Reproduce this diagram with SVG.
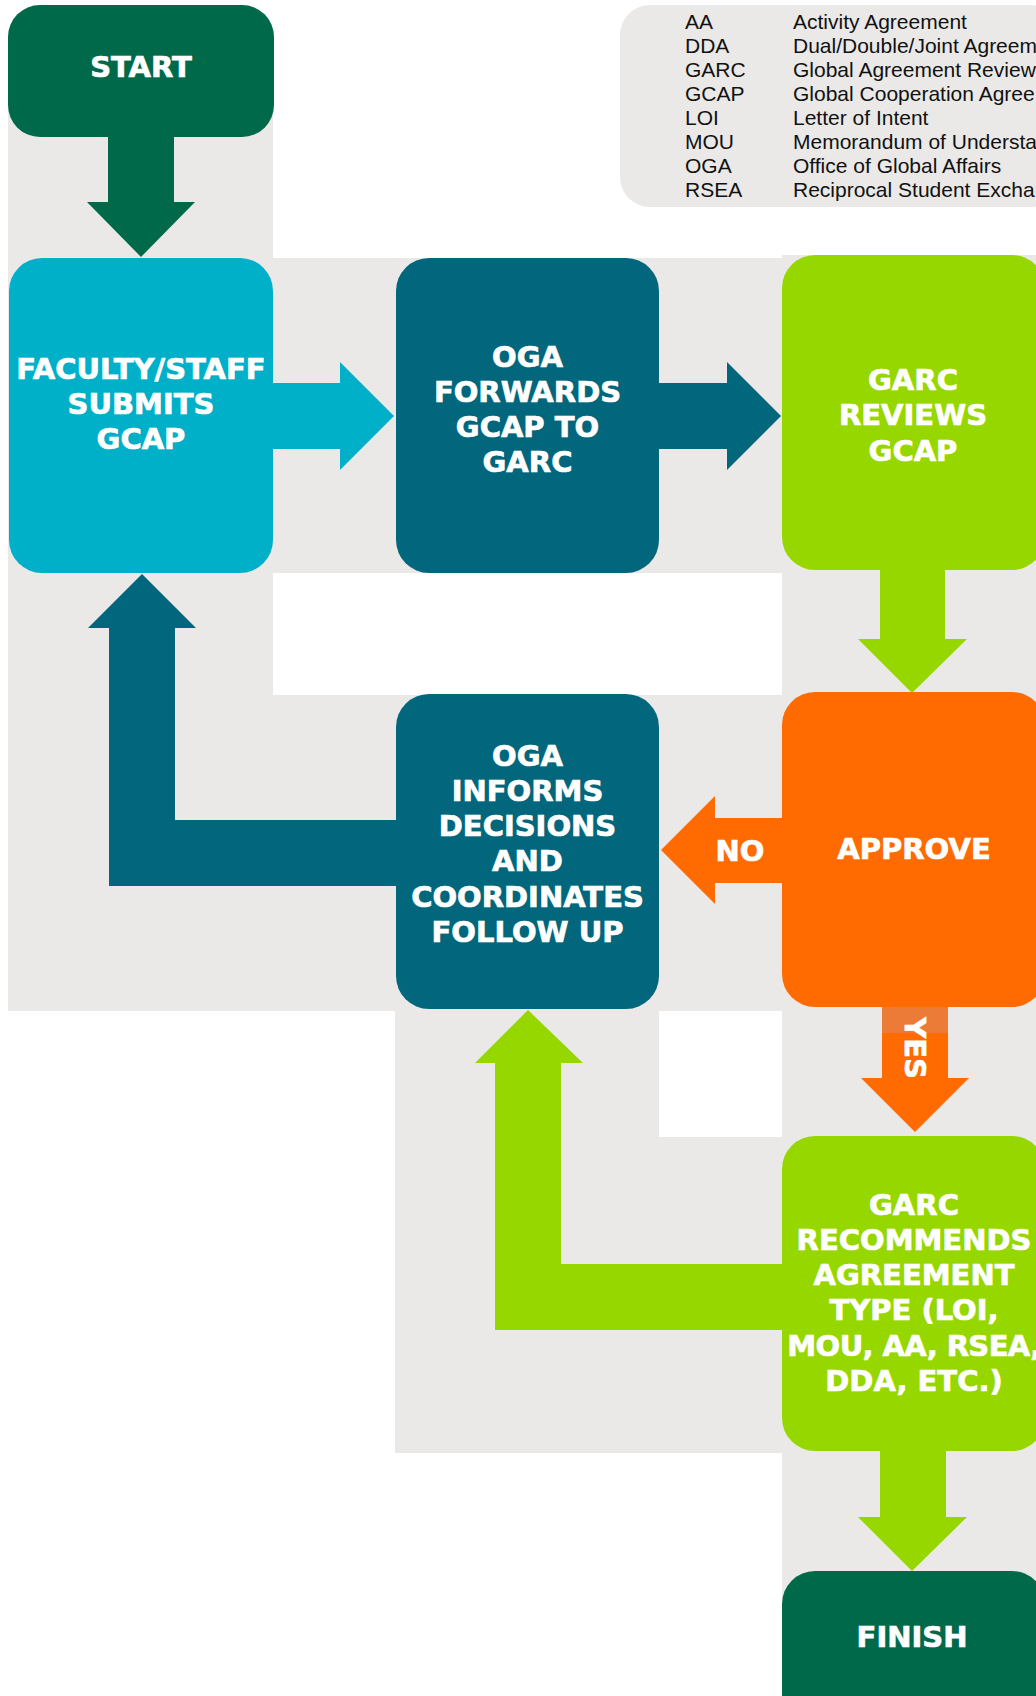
<svg xmlns="http://www.w3.org/2000/svg" width="1036" height="1696" viewBox="0 0 1036 1696">
<style>
.bg{fill:#EAE9E7}
.dg{fill:#00694A}
.cy{fill:#00AFC8}
.tl{fill:#02677C}
.lm{fill:#97D700}
.or{fill:#FF6B00}
.lbl{font-family:"DejaVu Sans",Verdana,sans-serif;font-weight:bold;font-size:29px;fill:#FFFFFF;stroke:#FFFFFF;stroke-width:0.7px;text-anchor:middle}
.leg{font-family:"Liberation Sans",Arial,sans-serif;font-size:21px;fill:#111111}
</style>
<rect width="1036" height="1696" fill="#FFFFFF"/>
<g id="background">
<rect class="bg" x="8" y="71" width="265" height="940"/>
<rect class="bg" x="8" y="258" width="1028" height="315"/>
<rect class="bg" x="782" y="255" width="254" height="1441"/>
<rect class="bg" x="8" y="695" width="1028" height="316"/>
<rect class="bg" x="395" y="1011" width="264" height="442"/>
<rect class="bg" x="659" y="1137" width="123" height="316"/>
</g>
<g id="legend">
<rect class="bg" x="620" y="5" width="440" height="202" rx="30"/>
<text class="leg" x="685" y="29">AA</text><text class="leg" x="793" y="29">Activity Agreement</text>
<text class="leg" x="685" y="53">DDA</text><text class="leg" x="793" y="53">Dual/Double/Joint Agreem</text>
<text class="leg" x="685" y="77">GARC</text><text class="leg" x="793" y="77">Global Agreement Review</text>
<text class="leg" x="685" y="101">GCAP</text><text class="leg" x="793" y="101">Global Cooperation Agree</text>
<text class="leg" x="685" y="125">LOI</text><text class="leg" x="793" y="125">Letter of Intent</text>
<text class="leg" x="685" y="149">MOU</text><text class="leg" x="793" y="149">Memorandum of Understa</text>
<text class="leg" x="685" y="173">OGA</text><text class="leg" x="793" y="173">Office of Global Affairs</text>
<text class="leg" x="685" y="197">RSEA</text><text class="leg" x="793" y="197">Reciprocal Student Excha</text>
</g>
<g id="connectors">
<polygon class="dg" points="108,130 174,130 174,202 195,202 141,257 87,202 108,202"/>
<polygon class="cy" points="268,383 340,383 340,362 394,416 340,470 340,449 268,449"/>
<polygon class="tl" points="654,383 727,383 727,362 781,416 727,470 727,449 654,449"/>
<polygon class="lm" points="880,565 945,565 945,639 967,639 912,693 858,639 880,639"/>
<polygon class="or" points="787,818 715,818 715,796 661,850 715,904 715,883 787,883"/>
<polygon class="or" points="882,1002 948,1002 948,1078 969,1078 915,1132 861,1078 882,1078"/>
<rect x="882" y="1007" width="66" height="26" fill="#EC7B38"/>
<polygon class="tl" points="400,820 175,820 175,628 196,628 142,574 88,628 109,628 109,886 400,886"/>
<polygon class="lm" points="786,1264 561,1264 561,1063 583,1063 528,1010 475,1063 495,1063 495,1330 786,1330"/>
<polygon class="lm" points="880,1446 946,1446 946,1517 967,1517 912,1571 858,1517 880,1517"/>
<text class="lbl" x="740" y="861">NO</text>
<text class="lbl" transform="translate(905,1048) rotate(90)" x="0" y="0">YES</text>
</g>
<g id="start">
<rect class="dg" x="8" y="5" width="266" height="132" rx="32"/>
<text class="lbl" x="141" y="77">START</text>
</g>
<g id="faculty">
<rect class="cy" x="9" y="258" width="264" height="315" rx="33"/>
<text class="lbl" x="141" y="379">FACULTY/STAFF</text>
<text class="lbl" x="141" y="414">SUBMITS</text>
<text class="lbl" x="141" y="449">GCAP</text>
</g>
<g id="oga-forwards">
<rect class="tl" x="396" y="258" width="263" height="315" rx="33"/>
<text class="lbl" x="527.5" y="367">OGA</text>
<text class="lbl" x="527.5" y="402">FORWARDS</text>
<text class="lbl" x="527.5" y="437">GCAP TO</text>
<text class="lbl" x="527.5" y="472">GARC</text>
</g>
<g id="garc-reviews">
<rect class="lm" x="782" y="255" width="263" height="315" rx="33"/>
<text class="lbl" x="913" y="390">GARC</text>
<text class="lbl" x="913" y="425">REVIEWS</text>
<text class="lbl" x="913" y="461">GCAP</text>
</g>
<g id="approve">
<rect class="or" x="782" y="692" width="263" height="315" rx="33"/>
<text class="lbl" x="914" y="859">APPROVE</text>
</g>
<g id="oga-informs">
<rect class="tl" x="396" y="694" width="263" height="315" rx="33"/>
<text class="lbl" x="527.5" y="766">OGA</text>
<text class="lbl" x="527.5" y="801">INFORMS</text>
<text class="lbl" x="527.5" y="836">DECISIONS</text>
<text class="lbl" x="527.5" y="871">AND</text>
<text class="lbl" x="527.5" y="907">COORDINATES</text>
<text class="lbl" x="527.5" y="942">FOLLOW UP</text>
</g>
<g id="garc-recommends">
<rect class="lm" x="782" y="1136" width="263" height="315" rx="33"/>
<text class="lbl" x="914" y="1215">GARC</text>
<text class="lbl" x="914" y="1250">RECOMMENDS</text>
<text class="lbl" x="914" y="1285">AGREEMENT</text>
<text class="lbl" x="914" y="1320">TYPE (LOI,</text>
<text class="lbl" x="914" y="1356" letter-spacing="-0.6">MOU, AA, RSEA,</text>
<text class="lbl" x="914" y="1391">DDA, ETC.)</text>
</g>
<g id="finish">
<rect class="dg" x="782" y="1571" width="263" height="160" rx="33"/>
<text class="lbl" x="912" y="1647">FINISH</text>
</g>
</svg>
